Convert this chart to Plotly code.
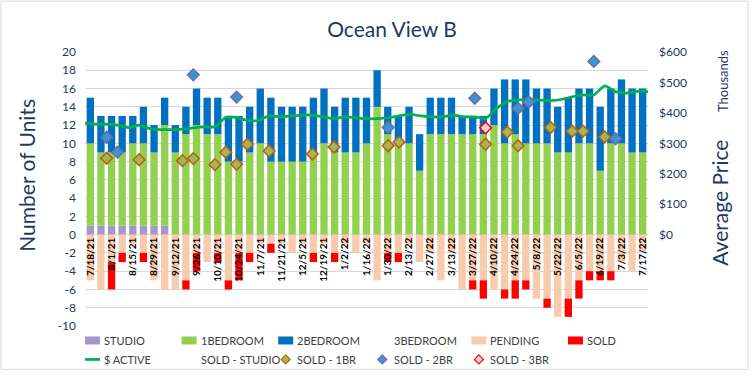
import plotly.graph_objects as go

# ---------------- data ----------------
weeks = ["7/18/21", "7/25/21", "8/1/21", "8/8/21", "8/15/21", "8/22/21", "8/29/21", "9/5/21",
         "9/12/21", "9/19/21", "9/26/21", "10/3/21", "10/10/21", "10/17/21", "10/24/21", "10/31/21",
         "11/7/21", "11/14/21", "11/21/21", "11/28/21", "12/5/21", "12/12/21", "12/19/21", "12/26/21",
         "1/2/22", "1/9/22", "1/16/22", "1/23/22", "1/30/22", "2/6/22", "2/13/22", "2/20/22",
         "2/27/22", "3/6/22", "3/13/22", "3/20/22", "3/27/22", "4/3/22", "4/10/22", "4/17/22",
         "4/24/22", "5/1/22", "5/8/22", "5/15/22", "5/22/22", "5/29/22", "6/5/22", "6/12/22",
         "6/19/22", "6/26/22", "7/3/22", "7/10/22", "7/17/22"]

studio = [1, 1, 1, 1, 1, 1, 1, 1, 0, 0,
          0, 0, 0, 0, 0, 0, 0, 0, 0, 0,
          0, 0, 0, 0, 0, 0, 0, 0, 0, 0,
          0, 0, 0, 0, 0, 0, 0, 0, 0, 0,
          0, 0, 0, 0, 0, 0, 0, 0, 0, 0,
          0, 0, 0]
one_br = [9, 8, 8, 8, 9, 9, 8, 11, 9, 11,
          12, 11, 11, 8, 8, 9, 10, 8, 8, 8,
          8, 9, 10, 9, 9, 9, 10, 14, 11, 10,
          10, 7, 11, 11, 11, 11, 11, 11, 12, 10,
          11, 10, 10, 10, 9, 9, 10, 10, 7, 10,
          10, 9, 9]
two_br = [5, 4, 4, 4, 3, 4, 3, 3, 3, 3,
          4, 4, 4, 5, 5, 5, 6, 7, 6, 6,
          6, 6, 6, 5, 6, 6, 5, 4, 3, 3,
          4, 4, 4, 4, 4, 2, 2, 2, 4, 7,
          6, 7, 6, 6, 5, 6, 6, 6, 7, 6,
          7, 7, 7]
three_br = [0, 0, 0, 0, 0, 0, 0, 0, 0, 0,
            0, 0, 0, 0, 0, 0, 0, 0, 0, 0,
            0, 0, 0, 0, 0, 0, 0, 0, 0, 0,
            0, 0, 0, 0, 0, 0, 0, 0, 0, 0,
            0, 0, 0, 0, 0, 0, 0, 0, 0, 0,
            0, 0, 0]
pending = [-5, -6, -3, -2, -1, -2, -5, -6, -6, -5,
           -2, -3, -2, -5, -2, -2, -1, -1, -1, -2,
           -1, -2, -1, -2, -1, -2, -1, -5, -2, -2,
           -1, -3, -2, -5, -2, -6, -5, -5, -6, -6,
           -5, -5, -7, -7, -9, -7, -5, -4, -4, -4,
           -3, -4, -2]
sold = [0, 0, -3, -1, 0, -1, 0, 0, 0, -1,
        -2, 0, -1, -1, -3, -1, 0, -1, 0, 0,
        0, -1, 0, -1, 0, 0, 0, 0, -1, -1,
        0, 0, 0, 0, 0, 0, -1, -2, 0, -1,
        -2, -1, 0, -1, 0, -2, -2, -1, -1, -1,
        0, 0, 0]

# average active price, $ thousands
active_price = [366, 363, 363, 360, 352, 360, 348, 345, 345, 347,
                351, 354, 354, 385, 385, 375, 375, 390, 387, 390,
                393, 393, 387, 381, 387, 384, 381, 381, 384, 390,
                396, 390, 387, 387, 393, 387, 387, 382, 414, 438,
                442, 445, 442, 440, 444, 453, 459, 459, 489, 470,
                465, 471, 470]

N = None
sold_studio = [N, N, N, N, N, N, N, N, N, N,
               N, N, N, N, N, N, N, N, N, N,
               N, N, N, N, N, N, N, N, N, N,
               N, N, N, N, N, N, N, N, N, N,
               N, N, N, N, N, N, N, N, N, N,
               N, N, N]
sold_1br = [N, N, 251, N, N, 246, N, N, N, 243,
            250, N, 230, 271, 231, 297, N, 275, N, N,
            N, 265, N, 288, N, N, N, N, 292, 304,
            N, N, N, N, N, N, N, 297, N, 337,
            292, N, N, 352, N, 340, 340, N, 321, N,
            N, N, N]
sold_2br = [N, N, 320, 271, N, N, N, N, N, N,
            525, N, N, N, 452, N, N, N, N, N,
            N, N, N, N, N, N, N, N, 352, N,
            N, N, N, N, N, N, 448, N, N, N,
            415, 436, N, N, N, N, N, 569, N, 315,
            N, N, N]
sold_3br = [N, N, N, N, N, N, N, N, N, N,
            N, N, N, N, N, N, N, N, N, N,
            N, N, N, N, N, N, N, N, N, N,
            N, N, N, N, N, N, N, 351, N, N,
            N, N, N, N, N, N, N, N, N, N,
            N, N, N]

unit_ticks = [-10, -8, -6, -4, -2, 0, 2, 4, 6, 8, 10, 12, 14, 16, 18, 20]
unit_labels = [str(v) for v in unit_ticks]
price_ticks = [0, 100, 200, 300, 400, 500, 600]
price_labels = ["$0", "$100", "$200", "$300", "$400", "$500", "$600"]
label_weeks = weeks[::2]

UNIT_RANGE = [-10, 20]
PRICE_RANGE = [-300, 600]

# ---------------- styling ----------------
NAVY = "#1F3864"
FONT = "Lato"
W, H = 753, 378
ML, MR, MT, MB = 85, 105, 52, 51.5
PW, PH = W - ML - MR, H - MT - MB

C_STUDIO, C_1BR, C_2BR, C_3BR = "#A597C7", "#92D050", "#0070C0", "rgba(0,0,0,0)"
C_PEND, C_SOLD, C_LINE = "#F8CBAD", "#FF0000", "#00B050"
M_1BR = ("#9BBB59", "#C55A11")
M_2BR = ("#2E9BD6", "#8064A2")
M_3BR = ("#FFD0D8", "#FF0000")
M_STUDIO = ("rgba(0,0,0,0)", "rgba(0,0,0,0)")


def px_x(p):
    return (p - ML) / PW


def px_y(p):
    return (H - MB - p) / PH


fig = go.Figure()

bar_series = [
    ("STUDIO", studio, C_STUDIO),
    ("1BEDROOM", one_br, C_1BR),
    ("2BEDROOM", two_br, C_2BR),
    ("3BEDROOM", three_br, C_3BR),
    ("PENDING", pending, C_PEND),
    ("SOLD", sold, C_SOLD),
]
for name, vals, col in bar_series:
    fig.add_trace(go.Bar(x=weeks, y=vals, name=name, marker=dict(color=col, line=dict(width=0)),
                         showlegend=False, hoverinfo="skip"))

fig.add_trace(go.Scatter(x=weeks, y=active_price, name="$ ACTIVE", xaxis="x2", yaxis="y2",
                         mode="lines", line=dict(color=C_LINE, width=2.75, shape="spline", smoothing=0.6),
                         showlegend=False))

marker_series = [
    ("SOLD - STUDIO", sold_studio, M_STUDIO),
    ("SOLD - 1BR", sold_1br, M_1BR),
    ("SOLD - 2BR", sold_2br, M_2BR),
    ("SOLD - 3BR", sold_3br, M_3BR),
]
for name, vals, (fill, edge) in marker_series:
    fig.add_trace(go.Scatter(x=weeks, y=vals, name=name, xaxis="x2", yaxis="y2", mode="markers",
                             marker=dict(symbol="diamond", size=9, color=fill, line=dict(color=edge, width=1.5)),
                             showlegend=False))

# ---------------- legend (two rows, Excel-like) ----------------
legend_rows = [
    [("STUDIO", "bar", C_STUDIO, None), ("1BEDROOM", "bar", C_1BR, None), ("2BEDROOM", "bar", C_2BR, None),
     ("3BEDROOM", "bar", C_3BR, None), ("PENDING", "bar", C_PEND, None), ("SOLD", "bar", C_SOLD, None)],
    [("$ ACTIVE", "line", C_LINE, None), ("SOLD - STUDIO", "marker", M_STUDIO[0], M_STUDIO[1]),
     ("SOLD - 1BR", "marker", M_1BR[0], M_1BR[1]), ("SOLD - 2BR", "marker", M_2BR[0], M_2BR[1]),
     ("SOLD - 3BR", "marker", M_3BR[0], M_3BR[1])],
]
LEG_X0, LEG_STEP, LEG_ROW_Y = 85, 96.6, [341, 360]
shapes = []
annotations = []
for r, row in enumerate(legend_rows):
    yc = LEG_ROW_Y[r]
    for c, (label, kind, col, edge) in enumerate(row):
        x0 = LEG_X0 + LEG_STEP * c
        if kind == "bar":
            shapes.append(dict(type="rect", xref="paper", yref="paper", x0=px_x(x0), x1=px_x(x0 + 15),
                               y0=px_y(yc + 4), y1=px_y(yc - 4), fillcolor=col, line=dict(width=0)))
        elif kind == "line":
            shapes.append(dict(type="line", xref="paper", yref="paper", x0=px_x(x0), x1=px_x(x0 + 15),
                               y0=px_y(yc), y1=px_y(yc), line=dict(color=col, width=2.75)))
        else:
            shapes.append(dict(type="path", xref="paper", yref="paper", xsizemode="pixel", ysizemode="pixel",
                               xanchor=px_x(x0 + 7.5), yanchor=px_y(yc), path="M0,-4.5L4.5,0L0,4.5L-4.5,0Z",
                               fillcolor=col, line=dict(color=edge, width=1.2)))
        annotations.append(dict(text=label, xref="paper", yref="paper", x=px_x(x0 + 17), y=px_y(yc),
                                xanchor="left", yanchor="middle", showarrow=False,
                                font=dict(family=FONT, size=11, color="#404040")))

annotations += [
    dict(text="Number of Units", xref="paper", yref="paper", x=px_x(27), y=px_y(176),
         textangle=-90, showarrow=False, xanchor="center", yanchor="middle",
         font=dict(family=FONT, size=21, color=NAVY)),
    dict(text="Average Price", xref="paper", yref="paper", x=px_x(720), y=px_y(203),
         textangle=-90, showarrow=False, xanchor="center", yanchor="middle",
         font=dict(family=FONT, size=21, color=NAVY)),
    dict(text="Thousands", xref="paper", yref="paper", x=px_x(723), y=px_y(81),
         textangle=-90, showarrow=False, xanchor="center", yanchor="middle",
         font=dict(family=FONT, size=13, color=NAVY)),
]
shapes.append(dict(type="rect", xref="paper", yref="paper", x0=px_x(1), x1=px_x(748),
                   y0=px_y(370), y1=px_y(1), line=dict(color="#D9D9D9", width=1), layer="below"))

zero_pos = (0 - UNIT_RANGE[0]) / (UNIT_RANGE[1] - UNIT_RANGE[0])

fig.update_layout(
    width=W, height=H,
    margin=dict(l=ML, r=MR, t=MT, b=MB, autoexpand=False),
    paper_bgcolor="white", plot_bgcolor="white",
    barmode="relative", bargap=0.31,
    showlegend=False,
    font=dict(family=FONT, color=NAVY),
    title=dict(text="Ocean View B", font=dict(family=FONT, size=21, color=NAVY),
               x=392 / W, xref="container", xanchor="center",
               y=1 - 30 / H, yref="container", yanchor="middle"),
    xaxis=dict(type="category", categoryorder="array", categoryarray=weeks, range=[-0.5, len(weeks) - 0.5],
               tickmode="array", tickvals=label_weeks, ticktext=label_weeks, tickangle=-90,
               anchor="free", position=zero_pos, showgrid=False, showline=False, zeroline=False,
               ticks="", automargin=False,
               tickfont=dict(family=FONT, size=10, color="black", weight="bold")),
    xaxis2=dict(type="category", categoryorder="array", categoryarray=weeks, overlaying="x",
                range=[0, len(weeks) - 1], visible=False, anchor="y2"),
    yaxis=dict(range=UNIT_RANGE, tickmode="array", tickvals=unit_ticks, ticktext=unit_labels,
               showgrid=True, gridcolor="#D9D9D9", gridwidth=1, zeroline=False, showline=False,
               ticks="", ticklabelstandoff=8, automargin=False,
               tickfont=dict(family=FONT, size=12, color=NAVY)),
    yaxis2=dict(range=PRICE_RANGE, overlaying="y", side="right", anchor="x",
                tickmode="array", tickvals=price_ticks, ticktext=price_labels,
                showgrid=False, zeroline=False, showline=False, ticks="", ticklabelstandoff=10,
                automargin=False, tickfont=dict(family=FONT, size=12, color=NAVY)),
    annotations=annotations,
    shapes=shapes,
)

fig.write_html("out.html", config={"displayModeBar": False},
               post_script="document.body.style.margin='0px';")
